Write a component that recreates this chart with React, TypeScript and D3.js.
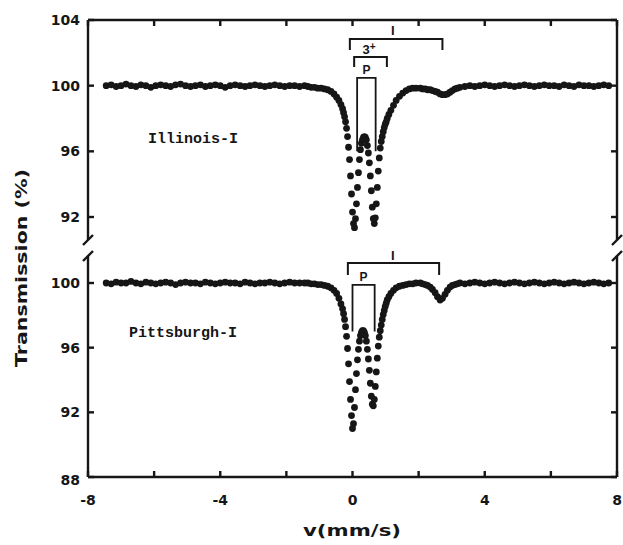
import * as d3 from 'd3';

// velocity channels (mm/s), split by region of the spectrum
const velBaseLeft = [
  -7.45, -7.3, -7.15, -7.0, -6.85, -6.7, -6.55, -6.4, -6.25, -6.1,
  -5.95, -5.8, -5.65, -5.5, -5.35, -5.2, -5.05, -4.9, -4.75, -4.6,
  -4.45, -4.3, -4.15, -4.0, -3.85, -3.7, -3.55, -3.4, -3.25, -3.1,
  -2.95, -2.8, -2.65, -2.5, -2.35, -2.2, -2.05, -1.9, -1.75, -1.6,
  -1.45,
];
const velShoulderLeft = [-1.35, -1.25, -1.15, -1.05, -0.95, -0.85, -0.75, -0.65, -0.56, -0.48, -0.41, -0.35];
const velDip = [
  -0.3, -0.27, -0.24, -0.21, -0.18, -0.15, -0.12, -0.09, -0.06, -0.03,
  0.0, 0.03, 0.06, 0.09, 0.12, 0.15, 0.18, 0.21, 0.24, 0.27,
  0.3, 0.33, 0.36, 0.39, 0.42, 0.45, 0.48, 0.51, 0.54, 0.57,
  0.6, 0.63, 0.66, 0.69, 0.72, 0.75, 0.78, 0.81, 0.84, 0.87,
  0.9, 0.93, 0.96, 0.99, 1.02, 1.05,
];
const velShoulderRight = [1.1, 1.16, 1.24, 1.32, 1.42, 1.52, 1.62, 1.72, 1.82, 1.92];
const velBaseRight = [
  2.05, 2.12, 2.2, 2.27, 2.35, 2.42, 2.5, 2.57, 2.65, 2.72,
  2.8, 2.87, 2.95, 3.02, 3.1, 3.17, 3.25,
  3.4, 3.55, 3.7, 3.85, 4.0, 4.15, 4.3, 4.45, 4.6, 4.75,
  4.9, 5.05, 5.2, 5.35, 5.5, 5.65, 5.8, 5.95, 6.1, 6.25,
  6.4, 6.55, 6.7, 6.85, 7.0, 7.15, 7.3, 7.45, 7.6, 7.75,
];

// Illinois-I transmission (%)
const illBaseLeft = [
  100.0, 100.05, 99.95, 100.0, 100.1, 100.0, 99.95, 100.05, 100.0, 99.9,
  100.0, 100.05, 100.0, 99.95, 100.05, 100.1, 100.0, 99.95, 100.0, 100.05,
  99.95, 100.0, 100.05, 100.0, 99.9, 100.0, 100.05, 100.0, 99.95, 100.0,
  100.05, 100.0, 99.95, 100.0, 100.05, 100.0, 99.95, 100.0, 100.0, 99.95,
  100.0,
];
const illShoulderLeft = [99.95, 99.9, 99.9, 99.85, 99.85, 99.8, 99.75, 99.65, 99.5, 99.3, 99.1, 98.85];
const illDip = [
  98.6, 98.35, 98.1, 97.8, 97.4, 96.9, 96.25, 95.5, 94.5, 93.4,
  92.3, 91.6, 91.35, 91.9, 92.8, 93.8, 94.7, 95.5, 96.1, 96.5,
  96.7, 96.85, 96.9, 96.85, 96.7, 96.35, 95.9, 95.3, 94.5, 93.6,
  92.6, 91.9, 91.6, 91.95, 92.8, 93.8, 94.8, 95.6, 96.2, 96.6,
  96.9, 97.2, 97.45, 97.65, 97.8, 98.0,
];
const illShoulderRight = [98.25, 98.5, 98.8, 99.1, 99.35, 99.55, 99.7, 99.8, 99.85, 99.85];
const illBaseRight = [
  99.85, 99.8, 99.8, 99.75, 99.75, 99.7, 99.65, 99.6, 99.5, 99.45,
  99.45, 99.5, 99.6, 99.7, 99.8, 99.85, 99.9,
  99.95, 100.0, 99.95, 100.0, 100.05, 100.0, 99.95, 100.0, 100.05, 100.0,
  99.95, 100.0, 100.05, 100.0, 99.95, 100.0, 100.05, 100.0, 100.0, 99.95,
  100.05, 100.0, 99.95, 100.05, 100.0, 100.0, 99.95, 100.0, 100.05, 100.0,
];

// Pittsburgh-I transmission (%)
const pitBaseLeft = [
  100.0, 99.95, 100.05, 100.0, 100.0, 100.1, 100.0, 99.95, 100.05, 100.0,
  99.95, 100.0, 100.05, 100.0, 99.9, 100.0, 100.05, 100.0, 100.0, 99.95,
  100.05, 100.0, 99.95, 100.0, 100.05, 100.0, 100.0, 99.95, 100.05, 100.0,
  99.95, 100.0, 100.0, 100.05, 100.0, 99.95, 100.0, 100.05, 100.0, 100.0,
  100.0,
];
const pitShoulderLeft = [100.0, 99.95, 99.95, 99.9, 99.9, 99.85, 99.8, 99.7, 99.55, 99.35, 99.05, 98.7];
const pitDip = [
  98.4, 98.1, 97.75, 97.3, 96.7, 95.95, 95.0, 93.9, 92.8, 91.8,
  91.0, 91.3, 92.3, 93.4, 94.4, 95.25, 95.9, 96.4, 96.75, 96.95,
  97.05, 97.05, 96.95, 96.75, 96.4, 95.9, 95.3, 94.6, 93.8, 93.0,
  92.5, 92.4, 92.8, 93.6, 94.5, 95.35, 96.1, 96.65, 97.05, 97.4,
  97.75, 98.05, 98.3, 98.55, 98.75, 98.95,
];
const pitShoulderRight = [99.15, 99.35, 99.55, 99.7, 99.8, 99.85, 99.9, 99.95, 99.95, 100.0];
const pitBaseRight = [
  100.0, 99.95, 99.9, 99.85, 99.75, 99.6, 99.4, 99.15, 98.95, 99.05,
  99.3, 99.55, 99.75, 99.85, 99.9, 99.95, 100.0,
  99.95, 100.0, 100.05, 100.0, 99.95, 100.0, 100.05, 100.0, 99.95, 100.0,
  100.05, 100.0, 99.95, 100.0, 100.05, 100.0, 99.95, 100.0, 100.05, 100.0,
  99.95, 100.0, 100.05, 100.0, 99.95, 100.0, 100.05, 100.0, 99.95, 100.0,
];

const xTicks = [-8, -6, -4, -2, 0, 2, 4, 6, 8];
const xTickLabels = [-8, -4, 0, 4, 8];
const upperTicks = [92, 96, 100, 104];
const lowerTicks = [88, 92, 96, 100];

// component assignments (v in mm/s, levels in %)
const upperBrackets = [
  { label: 'I', from: -0.08, to: 2.72, level: 102.84, end: 102.17, lx: 1.22, ly: 103.35 },
  { label: '3', from: 0.05, to: 1.04, level: 101.74, end: 101.13, lx: 0.5, ly: 102.2 },
];
const lowerBrackets = [
  { label: 'I', from: -0.14, to: 2.62, level: 101.23, end: 100.5, lx: 1.22, ly: 101.7 },
];
const upperPyrite = { from: 0.14, to: 0.7, top: 100.47, bottom: 96.0, ly: 100.95 };
const lowerPyrite = { from: 0.0, to: 0.67, top: 99.88, bottom: 97.0, ly: 100.4 };

const ink = '#161616';
const wideBold = "'DejaVu Sans', 'Liberation Sans', sans-serif";
const sansBold = "'Liberation Sans', Arial, sans-serif";
const monoBold = "'Liberation Mono', 'DejaVu Sans Mono', monospace";

function zip(vs: number[][], ts: number[][]) {
  const v = vs.flat();
  const t = ts.flat();
  return v.map((d, i) => ({ v: d, t: t[i] }));
}

const velocity = [velBaseLeft, velShoulderLeft, velDip, velShoulderRight, velBaseRight];
const illinois = zip(velocity, [illBaseLeft, illShoulderLeft, illDip, illShoulderRight, illBaseRight]);
const pittsburgh = zip(velocity, [pitBaseLeft, pitShoulderLeft, pitDip, pitShoulderRight, pitBaseRight]);

export default function App() {
  const width = 623;
  const height = 545;

  const x = d3.scaleLinear([-8, 8], [88, 617]);
  const yTop = d3.scaleLinear([92, 104], [217, 20]);
  const yBot = d3.scaleLinear([88, 100], [477, 283]);

  const left = x(-8);
  const right = x(8);
  const top = yTop(104);
  const bottom = yBot(88);
  const breakA = 240;
  const breakB = 256;

  const side = (xx: number, dir: number) => (
    <g stroke={ink} strokeWidth={2.4} fill="none">
      <line x1={xx} x2={xx} y1={top} y2={breakA} />
      <line x1={xx} x2={xx} y1={breakB} y2={bottom} />
      <line x1={xx - 5} x2={xx + 5} y1={breakA + 5} y2={breakA - 5} />
      <line x1={xx - 5} x2={xx + 5} y1={breakB + 5} y2={breakB - 5} />
      {upperTicks.map((t) => (
        <line key={'u' + t} x1={xx} x2={xx + dir * 6} y1={yTop(t)} y2={yTop(t)} />
      ))}
      {lowerTicks.map((t) => (
        <line key={'l' + t} x1={xx} x2={xx + dir * 6} y1={yBot(t)} y2={yBot(t)} />
      ))}
    </g>
  );

  const brackets = (list: typeof upperBrackets, y: d3.ScaleLinear<number, number>) =>
    list.map((b) => (
      <g key={b.label + b.from}>
        <path
          d={`M${x(b.from)},${y(b.end)}V${y(b.level)}H${x(b.to)}V${y(b.end)}`}
          fill="none"
          stroke={ink}
          strokeWidth={2}
        />
        <text
          x={x(b.lx)}
          y={y(b.ly)}
          textAnchor="middle"
          dominantBaseline="central"
          fontFamily={sansBold}
          fontWeight="bold"
          fontSize={13}
          fill={ink}
        >
          {b.label}
          {b.label === '3' && <tspan dy={-4} fontSize={10}>+</tspan>}
        </text>
      </g>
    ));

  const pyrite = (p: typeof upperPyrite, y: d3.ScaleLinear<number, number>) => (
    <g>
      <path
        d={`M${x(p.from)},${y(p.bottom)}V${y(p.top)}H${x(p.to)}V${y(p.bottom)}`}
        fill="none"
        stroke={ink}
        strokeWidth={1.8}
      />
      <text
        x={x((p.from + p.to) / 2)}
        y={y(p.ly)}
        textAnchor="middle"
        dominantBaseline="central"
        fontFamily={sansBold}
        fontWeight="bold"
        fontSize={12}
        fill={ink}
      >
        P
      </text>
    </g>
  );

  return (
    <svg
      width={width}
      height={height}
      style={{ position: 'absolute', left: 0, top: 0, background: '#fff' }}
    >
      {/* frame */}
      <g stroke={ink} strokeWidth={2.4}>
        <line x1={left} x2={right} y1={top} y2={top} />
        <line x1={left} x2={right} y1={bottom} y2={bottom} />
        {xTicks.map((t) => (
          <g key={t}>
            <line x1={x(t)} x2={x(t)} y1={top} y2={top + 6} />
            <line x1={x(t)} x2={x(t)} y1={bottom} y2={bottom - 6} />
          </g>
        ))}
      </g>
      {side(left, 1)}
      {side(right, -1)}

      {/* tick labels */}
      <g fontFamily={wideBold} fontWeight="bold" fontSize={14} fill={ink}>
        {upperTicks.map((t) => (
          <text key={'u' + t} x={80} y={yTop(t)} textAnchor="end" dominantBaseline="central">
            {t}
          </text>
        ))}
        {lowerTicks.map((t) => (
          <text key={'l' + t} x={80} y={yBot(t) + (t === 88 ? 3 : 0)} textAnchor="end" dominantBaseline="central">
            {t}
          </text>
        ))}
        {xTickLabels.map((t) => (
          <text key={t} x={x(t)} y={bottom + 23} textAnchor="middle" dominantBaseline="central">
            {t}
          </text>
        ))}
      </g>

      {/* axis titles */}
      <text
        transform="translate(22,268) rotate(-90)"
        textAnchor="middle"
        dominantBaseline="central"
        fontFamily={wideBold}
        fontWeight="bold"
        fontSize={15}
        textLength={198}
        lengthAdjust="spacingAndGlyphs"
        fill={ink}
      >
        Transmission (%)
      </text>
      <text
        x={352}
        y={530}
        textAnchor="middle"
        dominantBaseline="central"
        fontFamily={wideBold}
        fontWeight="bold"
        fontSize={16}
        textLength={98}
        lengthAdjust="spacingAndGlyphs"
        fill={ink}
      >
        v(mm/s)
      </text>

      {/* sample names */}
      <g fontFamily={monoBold} fontWeight="bold" fontSize={15} fill={ink}>
        <text x={148} y={yTop(96.7)} dominantBaseline="central">Illinois-I</text>
        <text x={129} y={yBot(96.9)} dominantBaseline="central">Pittsburgh-I</text>
      </g>

      {/* annotations */}
      {brackets(upperBrackets, yTop)}
      {brackets(lowerBrackets, yBot)}
      {pyrite(upperPyrite, yTop)}
      {pyrite(lowerPyrite, yBot)}

      {/* spectra */}
      <g fill={ink}>
        {illinois.map((d, i) => (
          <circle key={'i' + i} cx={x(d.v)} cy={yTop(d.t)} r={3.4} />
        ))}
        {pittsburgh.map((d, i) => (
          <circle key={'p' + i} cx={x(d.v)} cy={yBot(d.t)} r={3.4} />
        ))}
      </g>
    </svg>
  );
}
